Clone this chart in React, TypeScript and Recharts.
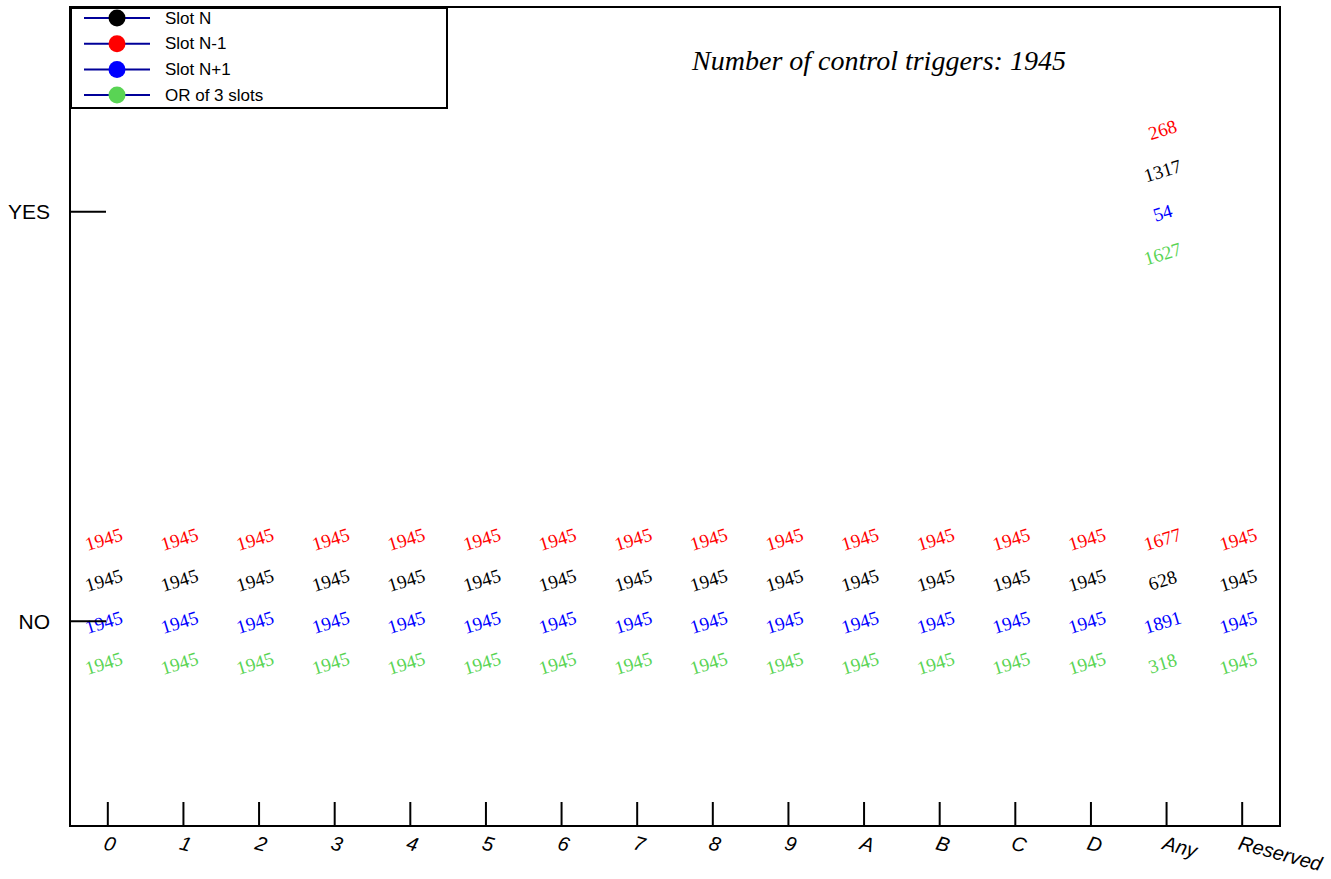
import React from "react";
import { ComposedChart, Legend, Scatter, XAxis, YAxis } from "recharts";

// bins of the x axis (trigger type) and of the y axis (flag)
const categories = ["0", "1", "2", "3", "4", "5", "6", "7", "8", "9", "A", "B", "C", "D", "Any", "Reserved"];
const rowLabels = ["NO", "YES"];
const totalTriggers = 1945;

// counts per bin, NO row then YES row
const slotNNo = [1945, 1945, 1945, 1945, 1945, 1945, 1945, 1945, 1945, 1945, 1945, 1945, 1945, 1945, 628, 1945];
const slotNYes = [0, 0, 0, 0, 0, 0, 0, 0, 0, 0, 0, 0, 0, 0, 1317, 0];
const slotNm1No = [1945, 1945, 1945, 1945, 1945, 1945, 1945, 1945, 1945, 1945, 1945, 1945, 1945, 1945, 1677, 1945];
const slotNm1Yes = [0, 0, 0, 0, 0, 0, 0, 0, 0, 0, 0, 0, 0, 0, 268, 0];
const slotNp1No = [1945, 1945, 1945, 1945, 1945, 1945, 1945, 1945, 1945, 1945, 1945, 1945, 1945, 1945, 1891, 1945];
const slotNp1Yes = [0, 0, 0, 0, 0, 0, 0, 0, 0, 0, 0, 0, 0, 0, 54, 0];
const orNo = [1945, 1945, 1945, 1945, 1945, 1945, 1945, 1945, 1945, 1945, 1945, 1945, 1945, 1945, 318, 1945];
const orYes = [0, 0, 0, 0, 0, 0, 0, 0, 0, 0, 0, 0, 0, 0, 1627, 0];

const series = [
  { name: "Slot N", color: "#000000", no: slotNNo, yes: slotNYes, dy: -41 },
  { name: "Slot N-1", color: "#ff0000", no: slotNm1No, yes: slotNm1Yes, dy: -82 },
  { name: "Slot N+1", color: "#0000ff", no: slotNp1No, yes: slotNp1Yes, dy: 1 },
  { name: "OR of 3 slots", color: "#59d454", no: orNo, yes: orYes, dy: 42 },
];

// empty bins are not drawn (like ROOT's TEXT option)
const toPoints = (no: number[], yes: number[]) =>
  categories
    .flatMap((_, i) => [
      { x: i, y: 0, v: no[i] },
      { x: i, y: 1, v: yes[i] },
    ])
    .filter((p) => p.v > 0);

const serif = "'Liberation Serif', 'Times New Roman', serif";
const sans = "'Liberation Sans', Arial, sans-serif";

const cellText = (color: string, dy: number) => (props: any) => {
  const { cx, cy, payload } = props;
  const x = cx - 4;
  const y = cy + dy;
  return (
    <text
      x={x}
      y={y}
      fill={color}
      textAnchor="middle"
      dominantBaseline="central"
      fontFamily={serif}
      fontSize={19}
      transform={`rotate(-17 ${x} ${y})`}
    >
      {payload.v}
    </text>
  );
};

const XTick = (props: any) => {
  const { x, y, payload } = props;
  const tx = x - 5;
  const ty = y + 23;
  return (
    <g>
      <line x1={x} x2={x} y1={y - 24} y2={y} stroke="#000" strokeWidth={2} />
      <text
        x={tx}
        y={ty}
        textAnchor="start"
        fontFamily={sans}
        fontStyle="italic"
        fontSize={20}
        fill="#000"
        transform={`rotate(15 ${tx} ${ty})`}
      >
        {categories[payload.value]}
      </text>
    </g>
  );
};

const YTick = (props: any) => {
  const { x, y, payload } = props;
  return (
    <g>
      <line x1={x} x2={x + 36} y1={y} y2={y} stroke="#000" strokeWidth={2} />
      <text x={x - 20} y={y} textAnchor="end" dominantBaseline="central" fontFamily={sans} fontSize={21} fill="#000">
        {rowLabels[payload.value]}
      </text>
    </g>
  );
};

const LegendBox = () => (
  <svg width={378} height={102} style={{ display: "block" }}>
    <rect x={1} y={1} width={376} height={100} fill="#fff" stroke="#000" strokeWidth={2} />
    {series.map((s, i) => (
      <g key={s.name} transform={`translate(0, ${11 + i * 25.7})`}>
        <line x1={14} x2={80} y1={0} y2={0} stroke="#000099" strokeWidth={2} />
        <circle cx={47} cy={0} r={8.5} fill={s.color} />
        <text x={95} y={0} dominantBaseline="central" fontFamily={sans} fontSize={17} fill="#000">
          {s.name}
        </text>
      </g>
    ))}
  </svg>
);

export default function App() {
  return (
    <div style={{ position: "absolute", left: 0, top: 0, background: "#fff" }}>
      <ComposedChart width={1331} height={879} margin={{ top: 7, right: 51, bottom: 0, left: 0 }}>
        {/* frame around the plot area */}
        <rect x={70} y={7} width={1210} height={819} fill="none" stroke="#000" strokeWidth={2} />
        <XAxis
          dataKey="x"
          type="number"
          domain={[-0.5, 15.5]}
          ticks={categories.map((_, i) => i)}
          interval={0}
          height={53}
          tickLine={false}
          tickSize={0}
          tickMargin={0}
          axisLine={{ stroke: "#000", strokeWidth: 2 }}
          tick={<XTick />}
        />
        <YAxis
          dataKey="y"
          type="number"
          domain={[-0.5, 1.5]}
          ticks={[0, 1]}
          interval={0}
          width={70}
          tickLine={false}
          tickSize={0}
          tickMargin={0}
          axisLine={{ stroke: "#000", strokeWidth: 2 }}
          tick={<YTick />}
        />
        {series.map((s) => (
          <Scatter
            key={s.name}
            name={s.name}
            data={toPoints(s.no, s.yes)}
            fill={s.color}
            shape={cellText(s.color, s.dy)}
            isAnimationActive={false}
          />
        ))}
        <Legend
          layout="horizontal"
          verticalAlign="middle"
          align="center"
          wrapperStyle={{ top: 7, left: 70, width: 378, height: 102 }}
          content={() => <LegendBox />}
        />
        <text x={879} y={70} textAnchor="middle" fontFamily={serif} fontStyle="italic" fontSize={28} fill="#000">
          {`Number of control triggers: ${totalTriggers}`}
        </text>
      </ComposedChart>
    </div>
  );
}
